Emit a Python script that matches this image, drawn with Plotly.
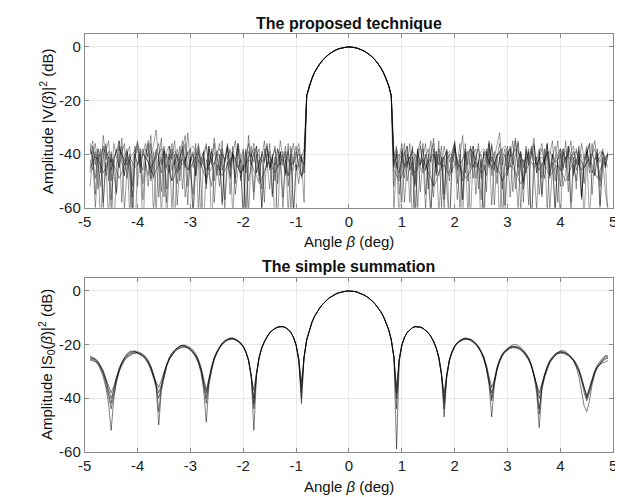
import plotly.graph_objects as go

# ---------------- data ----------------
ANGLE_STEP = 0.05
ANGLE_MIN, ANGLE_MAX = -4.9, 4.9

x_ticks = [-5, -4, -3, -2, -1, 0, 1, 2, 3, 4, 5]
x_tick_labels = ["-5", "-4", "-3", "-2", "-1", "0", "1", "2", "3", "4", "5"]
y_ticks = [-60, -40, -20, 0]
y_tick_labels = ["-60", "-40", "-20", "0"]

# main lobe of the proposed technique (angles -0.80 .. 0.80)
top_lobe = [-18.2, -14.4, -11.6, -9.4, -7.7, -6.2, -5.0, -3.9, -3.0, -2.3,
            -1.65, -1.13, -0.72, -0.40, -0.18, -0.04, 0, -0.04, -0.18, -0.40,
            -0.72, -1.13, -1.65, -2.3, -3.0, -3.9, -5.0, -6.2, -7.7, -9.4,
            -11.6, -14.4, -18.2]

# side regions of the proposed technique: left (-4.90 .. -0.85), right (0.85 .. 4.90)
top_left = [
    [-38,-41,-36,-44,-52,-40,-37,-45,-61,-42,-39,-35,-43,-48,-39,-44,-56,-41,-38,-47,
     -40,-36,-42,-50,-45,-38,-41,-63,-44,-39,-37,-46,-42,-51,-40,-35,-43,-39,-48,-55,
     -41,-38,-44,-40,-36,-47,-52,-43,-39,-41,-58,-42,-37,-45,-40,-49,-38,-43,-66,-41,
     -36,-44,-39,-47,-42,-53,-40,-37,-45,-41,-50,-38,-43,-60,-42,-39,-46,-41,-37,-44,
     -48,-42],
    [-40,-39,-41,-42,-40,-38,-39,-41,-43,-41,-39,-38,-40,-42,-44,-42,-40,-39,-37,-38,
     -40,-41,-43,-45,-43,-41,-40,-38,-39,-41,-42,-40,-39,-41,-43,-44,-42,-40,-38,-37,
     -39,-41,-42,-44,-46,-44,-42,-40,-39,-38,-40,-42,-41,-39,-40,-42,-45,-47,-45,-43,
     -41,-40,-38,-39,-41,-43,-42,-40,-41,-43,-44,-42,-40,-39,-41,-42,-44,-43,-41,-40,
     -42,-44],
    [-47,-37,-55,-40,-68,-42,-36,-50,-39,-72,-44,-35,-58,-41,-38,-63,-45,-37,-52,-40,
     -70,-43,-36,-49,-39,-61,-42,-34,-56,-40,-47,-38,-66,-43,-37,-53,-41,-59,-38,-45,
     -36,-62,-42,-39,-51,-37,-69,-44,-40,-48,-35,-57,-41,-38,-64,-43,-36,-50,-39,-71,
     -42,-37,-54,-40,-46,-60,-38,-44,-36,-55,-41,-67,-39,-43,-37,-52,-40,-62,-45,-38,
     -49,-44],
    [-42,-46,-39,-53,-44,-37,-48,-41,-57,-43,-38,-45,-40,-36,-49,-42,-62,-40,-44,-38,
     -51,-41,-35,-47,-43,-39,-56,-42,-37,-45,-40,-60,-44,-38,-46,-41,-36,-52,-43,-39,
     -48,-42,-65,-40,-37,-44,-39,-50,-41,-36,-46,-43,-38,-55,-40,-42,-37,-49,-44,-61,
     -39,-41,-36,-47,-43,-40,-58,-38,-45,-42,-37,-51,-40,-44,-39,-63,-41,-36,-46,-43,
     -40,-47],
    [-45,-43,-41,-42,-44,-47,-45,-43,-42,-44,-46,-49,-47,-44,-42,-41,-43,-45,-44,-42,
     -40,-41,-43,-46,-48,-46,-44,-42,-43,-45,-47,-50,-48,-45,-43,-42,-44,-46,-45,-43,
     -41,-42,-44,-47,-49,-47,-45,-43,-44,-46,-48,-46,-44,-42,-41,-43,-45,-47,-46,-44,
     -42,-43,-46,-48,-51,-49,-46,-44,-43,-45,-47,-45,-43,-44,-46,-48,-47,-45,-44,-46,
     -48,-47],
    [-36,-43,-49,-38,-41,-60,-39,-35,-46,-42,-54,-37,-40,-44,-39,-48,-67,-41,-36,-45,
     -38,-43,-52,-40,-37,-31,-42,-47,-39,-58,-41,-36,-44,-40,-50,-38,-33,-46,-42,-64,
     -39,-37,-45,-41,-53,-38,-43,-36,-48,-40,-59,-42,-37,-44,-39,-51,-36,-41,-46,-38,
     -62,-40,-43,-37,-48,-41,-35,-45,-39,-56,-42,-38,-44,-40,-47,-36,-61,-42,-39,-45,
     -41,-38],
    [-52,-41,-60,-45,-38,-58,-43,-65,-40,-47,-55,-42,-37,-61,-46,-40,-53,-70,-44,-39,
     -57,-43,-48,-36,-62,-45,-41,-54,-38,-66,-44,-50,-40,-59,-43,-37,-56,-47,-41,-63,
     -45,-39,-51,-68,-42,-46,-38,-58,-44,-52,-40,-61,-43,-48,-37,-55,-46,-42,-64,-39,
     -50,-44,-57,-41,-38,-60,-47,-43,-53,-40,-69,-45,-39,-56,-42,-48,-38,-62,-44,-51,
     -41,-58],
    [-40,-35,-44,-38,-47,-33,-42,-39,-50,-36,-41,-45,-34,-48,-40,-37,-52,-39,-35,-43,
     -46,-38,-41,-33,-49,-40,-36,-44,-39,-53,-37,-42,-35,-47,-41,-38,-45,-32,-43,-40,
     -48,-36,-42,-39,-51,-37,-44,-34,-41,-46,-38,-43,-36,-49,-40,-35,-45,-42,-38,-47,
     -33,-44,-40,-37,-50,-39,-43,-36,-46,-41,-38,-45,-35,-42,-48,-39,-37,-44,-40,-36,
     -43,-41],
]
top_right = [
    [-44,-39,-47,-41,-36,-50,-43,-38,-62,-42,-37,-45,-40,-53,-39,-36,-44,-48,-41,-57,
     -38,-43,-40,-35,-46,-42,-65,-39,-44,-37,-49,-41,-38,-45,-40,-54,-36,-43,-39,-47,
     -42,-38,-59,-41,-37,-44,-40,-35,-46,-51,-39,-42,-38,-45,-61,-40,-36,-43,-39,-48,
     -41,-37,-44,-52,-38,-42,-40,-35,-47,-43,-39,-56,-41,-37,-45,-40,-38,-44,-50,-39,
     -42,-40],
    [-43,-41,-40,-42,-44,-43,-41,-39,-40,-42,-45,-47,-45,-43,-41,-40,-42,-44,-43,-41,
     -40,-39,-41,-43,-45,-44,-42,-40,-39,-38,-40,-42,-41,-39,-38,-40,-43,-45,-43,-41,
     -39,-38,-37,-39,-41,-40,-38,-39,-41,-43,-42,-40,-39,-41,-44,-46,-44,-42,-40,-39,
     -41,-43,-42,-40,-38,-39,-41,-42,-40,-39,-41,-43,-45,-43,-41,-40,-42,-41,-39,-40,
     -41,-40],
    [-52,-40,-66,-38,-45,-37,-58,-41,-70,-39,-44,-36,-55,-42,-63,-38,-47,-35,-60,-41,
     -39,-68,-43,-37,-51,-40,-57,-36,-46,-64,-40,-38,-53,-42,-72,-39,-45,-37,-59,-41,
     -36,-49,-65,-40,-38,-54,-43,-36,-61,-42,-47,-39,-69,-37,-44,-41,-56,-38,-62,-40,
     -35,-50,-43,-67,-39,-45,-37,-58,-41,-53,-38,-46,-64,-40,-36,-55,-42,-39,-60,-44,
     -41,-66],
    [-39,-45,-42,-58,-40,-37,-46,-43,-52,-38,-44,-41,-36,-49,-63,-40,-45,-38,-42,-55,
     -39,-47,-41,-36,-44,-60,-42,-38,-50,-40,-37,-45,-43,-57,-39,-41,-36,-48,-44,-40,
     -66,-42,-38,-46,-41,-35,-53,-43,-39,-45,-40,-59,-37,-44,-42,-38,-49,-41,-36,-47,
     -43,-62,-40,-38,-45,-41,-54,-39,-37,-46,-42,-40,-51,-38,-44,-36,-48,-41,-43,-39,
     -45,-40],
    [-46,-48,-50,-48,-45,-43,-44,-46,-47,-45,-43,-42,-44,-47,-49,-52,-50,-47,-45,-44,
     -46,-48,-46,-44,-43,-45,-47,-49,-48,-46,-44,-43,-45,-47,-46,-44,-42,-41,-43,-45,
     -47,-50,-48,-46,-44,-45,-47,-49,-51,-49,-46,-44,-43,-45,-44,-42,-41,-43,-46,-48,
     -47,-45,-44,-46,-48,-50,-48,-45,-43,-42,-44,-46,-45,-43,-42,-44,-47,-49,-46,-44,
     -43,-45],
    [-41,-37,-55,-42,-39,-45,-36,-48,-40,-60,-43,-38,-46,-41,-35,-52,-39,-44,-37,-62,
     -42,-40,-47,-38,-43,-36,-57,-41,-39,-45,-37,-49,-42,-40,-64,-38,-44,-36,-46,-41,
     -39,-53,-43,-37,-45,-40,-34,-48,-42,-58,-38,-44,-41,-36,-47,-39,-55,-43,-37,-45,
     -40,-61,-42,-38,-46,-35,-50,-41,-39,-44,-37,-56,-43,-40,-36,-47,-42,-38,-52,-41,
     -44,-39],
    [-60,-43,-49,-39,-58,-44,-41,-66,-46,-38,-54,-42,-61,-40,-47,-56,-39,-63,-45,-41,
     -52,-68,-43,-38,-57,-44,-50,-40,-62,-46,-39,-55,-42,-70,-44,-48,-38,-59,-43,-51,
     -41,-64,-45,-39,-56,-42,-47,-60,-40,-53,-44,-38,-67,-46,-41,-55,-43,-49,-39,-61,
     -45,-42,-58,-40,-52,-47,-38,-63,-44,-50,-41,-57,-43,-39,-65,-46,-48,-40,-59,-42,
     -54,-60],
    [-45,-38,-42,-36,-49,-40,-44,-37,-51,-39,-35,-46,-41,-38,-43,-34,-48,-40,-45,-37,
     -42,-50,-39,-36,-44,-41,-33,-47,-40,-38,-45,-42,-36,-49,-39,-43,-35,-46,-41,-37,
     -32,-44,-40,-48,-38,-42,-35,-45,-39,-50,-37,-43,-40,-34,-47,-41,-38,-44,-36,-49,
     -40,-42,-35,-46,-39,-43,-37,-41,-48,-38,-44,-36,-42,-39,-47,-40,-35,-43,-41,-38,
     -45,-40],
]

# main lobe of the simple summation (angles -0.85 .. 0.85)
sum_lobe = [-24.7, -18.2, -14.4, -11.6, -9.4, -7.7, -6.2, -5.0, -3.9, -3.0,
            -2.3, -1.65, -1.13, -0.72, -0.40, -0.18, -0.04, 0, -0.04, -0.18,
            -0.40, -0.72, -1.13, -1.65, -2.3, -3.0, -3.9, -5.0, -6.2, -7.7,
            -9.4, -11.6, -14.4, -18.2, -24.7]

# side regions of the simple summation: left (-4.90 .. -0.90), right (0.90 .. 4.90)
sum_left = [
    [-24.8,-25.1,-25.7,-26.7,-28.1,-30.2,-33.4,-37,-40,-37,
     -33,-29.6,-27.4,-25.7,-24.6,-23.8,-23.2,-23.0,-23.0,-23.3,
     -23.9,-24.9,-26.3,-28.4,-31.5,-35,-38,-35,-31,-27.6,
     -25.3,-23.7,-22.5,-21.6,-21.1,-20.8,-20.8,-21.1,-21.7,-22.6,
     -23.9,-26.0,-29.1,-34,-40,-33.5,-28.5,-25.0,-22.7,-21.0,
     -19.7,-18.8,-18.2,-17.9,-17.8,-18.1,-18.6,-19.4,-20.7,-22.7,
     -25.8,-31.4,-40,-30.9,-24.8,-21.2,-18.8,-17.0,-15.6,-14.6,
     -13.9,-13.5,-13.3,-13.3,-13.7,-14.4,-15.5,-17.3,-20.2,-25.6,
     -40],
    [-25.5,-25.6,-26.2,-27.5,-29.5,-32.0,-36,-42,-52,-40,
     -34,-30.2,-27.0,-25.2,-24.0,-23.3,-22.9,-22.6,-23.2,-23.8,
     -24.5,-25.6,-27.1,-29.6,-32,-34,-36,-33,-30,-27.0,
     -24.8,-23.2,-22.0,-21.3,-20.6,-20.3,-20.6,-21.4,-22.2,-23.2,
     -24.6,-27.0,-30.5,-37,-49,-35,-29.5,-25.6,-23.2,-21.3,
     -19.5,-18.6,-18.0,-17.6,-17.6,-18.2,-18.9,-19.8,-21.0,-23.0,
     -26.2,-32,-37,-30.4,-24.5,-21.0,-18.7,-17.0,-15.6,-14.6,
     -13.9,-13.5,-13.3,-13.3,-13.7,-14.4,-15.5,-17.3,-20.4,-26.5,
     -38],
    [-24.2,-24.6,-25.3,-26.2,-27.8,-29.6,-32.6,-35.5,-38,-35.5,
     -32,-28.8,-26.8,-25.0,-24.0,-23.0,-22.6,-22.4,-22.6,-23.0,
     -23.6,-24.4,-25.8,-28.0,-31,-35.5,-50,-37,-32,-28.2,
     -25.6,-23.8,-22.4,-21.3,-20.7,-20.3,-20.2,-20.6,-21.2,-22.0,
     -23.4,-25.4,-28.4,-32.5,-37,-32.6,-28.0,-24.6,-22.4,-20.7,
     -19.4,-18.5,-17.9,-17.6,-17.6,-17.9,-18.5,-19.3,-20.6,-22.6,
     -25.6,-32,-52,-31.5,-25.0,-21.3,-18.9,-17.0,-15.6,-14.6,
     -13.9,-13.5,-13.3,-13.3,-13.7,-14.4,-15.5,-17.3,-20.1,-25.2,
     -34],
    [-25.8,-26.0,-26.3,-27.0,-28.5,-30.8,-34.5,-39,-44,-38.5,
     -33.5,-29.2,-26.6,-24.9,-23.4,-22.6,-22.4,-22.6,-23.2,-23.6,
     -24.3,-25.2,-26.6,-28.9,-32,-36,-40,-36,-31.5,-27.9,
     -25.0,-23.3,-22.2,-21.2,-20.5,-20.4,-20.5,-21.0,-21.6,-22.9,
     -24.4,-26.6,-29.6,-35,-42,-34,-29.0,-25.4,-22.9,-21.2,
     -19.9,-19.0,-18.3,-18.0,-17.9,-18.2,-18.7,-19.5,-20.8,-22.9,
     -26.0,-32,-44,-31.2,-24.9,-21.2,-18.8,-17.0,-15.6,-14.6,
     -13.9,-13.5,-13.3,-13.3,-13.7,-14.4,-15.5,-17.3,-20.2,-25.8,
     -42],
    [-25.0,-25.4,-25.5,-26.4,-28.8,-31.0,-33.0,-38,-42,-36.5,
     -32.4,-29.8,-27.8,-26.0,-24.8,-24.0,-23.5,-23.3,-23.1,-23.5,
     -24.0,-25.1,-26.6,-28.2,-31,-34.5,-45,-35.5,-30.6,-27.4,
     -25.5,-23.9,-22.8,-21.9,-21.3,-21.0,-21.0,-21.3,-21.9,-22.8,
     -24.2,-26.2,-29.4,-33.5,-38,-33,-28.2,-25.2,-22.9,-21.2,
     -19.8,-18.9,-18.3,-18.0,-17.9,-18.1,-18.6,-19.5,-20.7,-22.8,
     -25.9,-31.6,-42,-31.0,-24.8,-21.2,-18.8,-17.0,-15.6,-14.6,
     -13.9,-13.5,-13.3,-13.3,-13.7,-14.4,-15.5,-17.3,-20.2,-25.6,
     -36],
]
sum_right = [
    [-40,-25.6,-20.2,-17.3,-15.5,-14.4,-13.7,-13.3,-13.3,-13.5,
     -13.9,-14.6,-15.6,-17.0,-18.8,-21.2,-24.8,-30.9,-40,-31.4,
     -25.8,-22.7,-20.7,-19.4,-18.6,-18.1,-17.8,-17.9,-18.2,-18.8,
     -19.7,-21.0,-22.7,-25.0,-28.5,-33.5,-40,-34,-29.1,-26.0,
     -23.9,-22.6,-21.7,-21.1,-20.8,-20.8,-21.1,-21.6,-22.5,-23.7,
     -25.3,-27.6,-31,-35,-40,-35,-31.5,-28.4,-26.3,-24.9,
     -23.9,-23.3,-23.0,-23.0,-23.2,-23.8,-24.6,-25.7,-27.4,-29.6,
     -33,-37,-40,-37,-33.4,-30.2,-28.1,-26.7,-25.7,-25.1,
     -24.8],
    [-59,-26.5,-20.4,-17.3,-15.5,-14.4,-13.7,-13.3,-13.3,-13.5,
     -13.9,-14.6,-15.6,-17.0,-18.9,-21.4,-25.3,-31.5,-38,-30.8,
     -25.4,-22.4,-20.4,-19.2,-18.3,-17.8,-17.5,-17.7,-18.0,-18.6,
     -19.4,-20.6,-22.3,-24.4,-27.6,-31.5,-36,-33,-28.5,-25.5,
     -23.4,-22.2,-21.3,-20.6,-20.1,-20.0,-20.4,-21.0,-22.0,-23.2,
     -24.9,-27.6,-31.8,-38,-51,-37,-32.5,-29.2,-26.8,-25.3,
     -24.1,-23.0,-22.4,-22.2,-22.6,-23.4,-24.5,-26.0,-28.5,-32,
     -37,-43,-45,-41,-35,-31,-28.6,-27.0,-25.8,-24.4,
     -24.0],
    [-36,-25.2,-20.1,-17.3,-15.5,-14.4,-13.7,-13.3,-13.3,-13.5,
     -13.9,-14.6,-15.6,-17.0,-18.7,-21.0,-24.5,-30.5,-47,-32,
     -26.2,-23.0,-20.9,-19.5,-18.7,-18.2,-18.0,-18.1,-18.5,-19.1,
     -20.0,-21.3,-23.0,-25.5,-29.2,-35,-47,-35,-29.6,-26.4,
     -24.3,-22.9,-22.0,-21.4,-21.2,-21.2,-21.6,-22.1,-23.0,-24.2,
     -25.8,-28.2,-31.5,-35,-38,-34.5,-31,-28.0,-25.9,-24.5,
     -23.5,-22.9,-22.6,-22.7,-23.0,-23.7,-24.5,-25.5,-27.0,-29.0,
     -32,-36,-40,-36.5,-33.0,-30.0,-28.4,-27.5,-26.8,-26.5,
     -26.0],
    [-44,-25.8,-20.2,-17.3,-15.5,-14.4,-13.7,-13.3,-13.3,-13.5,
     -13.9,-14.6,-15.6,-17.0,-18.8,-21.2,-24.9,-31.2,-42,-31.8,
     -25.9,-22.8,-20.8,-19.5,-18.7,-18.3,-18.0,-18.0,-18.3,-18.9,
     -19.9,-21.3,-22.9,-25.3,-28.9,-34,-41,-34.5,-29.4,-26.3,
     -24.2,-22.8,-21.9,-21.2,-20.9,-21.0,-21.2,-21.9,-22.8,-24.0,
     -25.6,-27.9,-31.3,-36,-44,-36,-31.8,-28.6,-26.5,-25.2,
     -24.2,-23.4,-23.2,-23.3,-23.6,-24.2,-25.0,-26.2,-27.9,-30.0,
     -33.5,-38,-41,-38,-33.8,-30.5,-28.4,-27.2,-26.2,-25.4,
     -25.2],
    [-38,-25.6,-20.2,-17.3,-15.5,-14.4,-13.7,-13.3,-13.3,-13.5,
     -13.9,-14.6,-15.6,-17.0,-18.8,-21.3,-25.0,-31.0,-44,-31.6,
     -25.9,-22.6,-20.6,-19.3,-18.5,-18.0,-17.7,-17.8,-18.1,-18.7,
     -19.6,-20.8,-22.5,-24.8,-28.2,-33.2,-38,-33.8,-28.8,-25.8,
     -23.7,-22.4,-21.5,-20.9,-20.6,-20.7,-21.0,-21.5,-22.4,-23.6,
     -25.1,-27.4,-30.8,-35.5,-46,-35.5,-31.2,-28.2,-26.0,-24.6,
     -23.6,-23.0,-22.8,-22.9,-23.4,-23.9,-24.8,-25.9,-27.6,-29.8,
     -33.2,-36.5,-39,-36,-32.8,-29.8,-27.6,-26.2,-25.0,-24.2,
     -24.6],
]

# ---------------- helpers ----------------
def left_angles(n):
    return [round(ANGLE_MIN + ANGLE_STEP * i, 3) for i in range(n)]

def right_angles(n):
    return [round(ANGLE_MAX - ANGLE_STEP * (n - 1 - i), 3) for i in range(n)]

def lobe_angles(n):
    half = (n - 1) / 2
    return [round(ANGLE_STEP * (i - half), 3) for i in range(n)]

FONT = "Liberation Sans, Arial, Helvetica, sans-serif"
LINE_TOP = dict(color="rgba(0,0,0,0.5)", width=0.75)
LINE_BOT = dict(color="rgba(0,0,0,0.6)", width=0.85)

fig = go.Figure()

for L, R in zip(top_left, top_right):
    fig.add_trace(go.Scatter(
        x=left_angles(len(L)) + lobe_angles(len(top_lobe)) + right_angles(len(R)),
        y=L + top_lobe + R, mode="lines", line=LINE_TOP, showlegend=False,
        hoverinfo="skip", xaxis="x", yaxis="y"))

for L, R in zip(sum_left, sum_right):
    fig.add_trace(go.Scatter(
        x=left_angles(len(L)) + lobe_angles(len(sum_lobe)) + right_angles(len(R)),
        y=L + sum_lobe + R, mode="lines", line=LINE_BOT, showlegend=False,
        hoverinfo="skip", xaxis="x2", yaxis="y2"))

W, H = 623, 497
X0, X1 = 71, 609
TOP = (26, 203)
BOT = (274, 451)

def xdom():
    return [X0 / W, X1 / W]

def ydom(p):
    return [(H - p[1]) / H, (H - p[0]) / H]

axis_common = dict(
    showgrid=True, gridcolor="#e8e8e8", gridwidth=1,
    showline=True, linecolor="#8a8a8a", linewidth=1, mirror="ticks",
    ticks="inside", ticklen=4, tickcolor="#8a8a8a",
    zeroline=False, tickfont=dict(family=FONT, size=15, color="#222"),
)

fig.update_layout(
    width=W, height=H,
    margin=dict(l=0, r=0, t=0, b=0),
    paper_bgcolor="white", plot_bgcolor="white",
    font=dict(family=FONT, color="#222"),
    xaxis=dict(domain=xdom(), range=[-5, 5], tickvals=x_ticks, ticktext=x_tick_labels,
               anchor="y", **axis_common),
    yaxis=dict(domain=ydom(TOP), range=[-60, 5], tickvals=y_ticks, ticktext=y_tick_labels,
               anchor="x", **axis_common),
    xaxis2=dict(domain=xdom(), range=[-5, 5], tickvals=x_ticks, ticktext=x_tick_labels,
                anchor="y2", **axis_common),
    yaxis2=dict(domain=ydom(BOT), range=[-60, 5], tickvals=y_ticks, ticktext=y_tick_labels,
                anchor="x2", **axis_common),
)

cx = (X0 + X1) / 2 / W
ann = [
    dict(text="<b>The proposed technique</b>", x=cx, y=(H - 16) / H, size=16),
    dict(text="<b>The simple summation</b>", x=cx, y=(H - 263) / H, size=16),
    dict(text="Angle <i>β</i> (deg)", x=cx, y=(H - 237) / H, size=15),
    dict(text="Angle <i>β</i> (deg)", x=cx, y=(H - 486) / H, size=15),
]
for a in ann:
    fig.add_annotation(text=a["text"], x=a["x"], y=a["y"], xref="paper", yref="paper",
                       xanchor="center", yanchor="middle", showarrow=False,
                       font=dict(family=FONT, size=a["size"], color="#111"))

fig.add_annotation(text="Amplitude |V(<i>β</i>)|<sup>2</sup> (dB)", x=32 / W,
                   y=(H - (TOP[0] + TOP[1]) / 2) / H, xref="paper", yref="paper",
                   textangle=-90, showarrow=False, xanchor="center", yanchor="middle",
                   font=dict(family=FONT, size=15, color="#111"))
fig.add_annotation(text="Amplitude |S<sub>0</sub>(<i>β</i>)|<sup>2</sup> (dB)", x=32 / W,
                   y=(H - (BOT[0] + BOT[1]) / 2) / H, xref="paper", yref="paper",
                   textangle=-90, showarrow=False, xanchor="center", yanchor="middle",
                   font=dict(family=FONT, size=15, color="#111"))

fig.write_html("out.html")
